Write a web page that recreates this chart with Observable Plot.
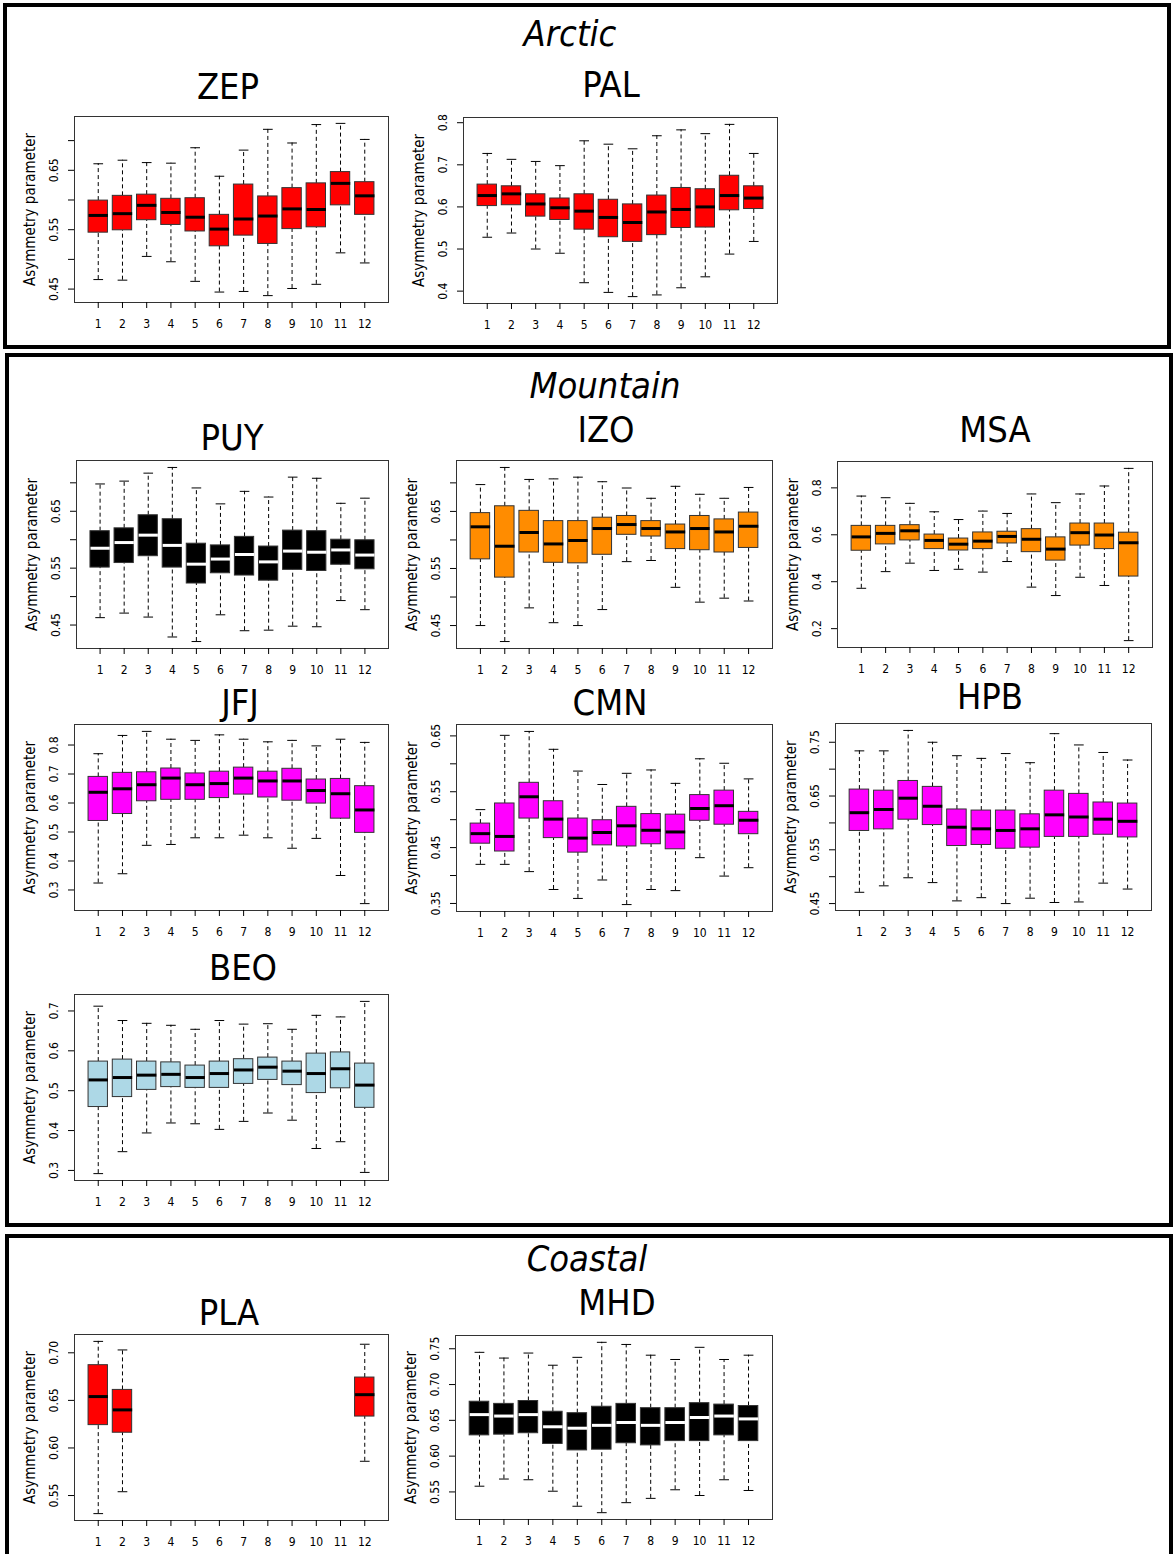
<!DOCTYPE html>
<html><head><meta charset="utf-8">
<script src="https://cdn.jsdelivr.net/npm/d3@7"></script>
<script src="https://cdn.jsdelivr.net/npm/@observablehq/plot@0.6"></script>
<style>
body{margin:0;background:#fff;}
#page{position:relative;width:1173px;height:1554px;overflow:hidden;background:#fff;font-family:"Liberation Sans Narrow","DejaVu Sans Condensed","Liberation Sans",Arial,sans-serif;color:#000;}
.group{position:absolute;border:4px solid #000;box-sizing:border-box;}
.gtitle{position:absolute;font-style:italic;font-size:36px;transform:translate(-50%,-50%);white-space:nowrap;line-height:1;}
.ptitle{position:absolute;font-size:36px;transform:translate(-50%,-50%);white-space:nowrap;line-height:1;}
.panel{position:absolute;}
</style></head><body><div id="page"></div>
<script>
const months = [1,2,3,4,5,6,7,8,9,10,11,12];

// ZEP (Arctic)
const ZEP_lo  = [0.466,0.465,0.505,0.496,0.463,0.445,0.446,0.439,0.451,0.458,0.511,0.494];
const ZEP_q1  = [0.545,0.549,0.566,0.558,0.547,0.522,0.540,0.526,0.551,0.554,0.591,0.575];
const ZEP_med = [0.574,0.577,0.591,0.579,0.571,0.551,0.568,0.573,0.585,0.584,0.628,0.607];
const ZEP_q3  = [0.599,0.607,0.609,0.602,0.603,0.575,0.626,0.606,0.620,0.628,0.647,0.630];
const ZEP_hi  = [0.661,0.667,0.663,0.662,0.688,0.640,0.684,0.719,0.696,0.727,0.729,0.702];
// PAL (Arctic)
const PAL_lo  = [0.528,0.538,0.500,0.490,0.420,0.397,0.387,0.391,0.408,0.434,0.488,0.518];
const PAL_q1  = [0.602,0.604,0.577,0.569,0.546,0.528,0.517,0.533,0.550,0.551,0.592,0.595];
const PAL_med = [0.627,0.631,0.607,0.598,0.590,0.575,0.563,0.588,0.594,0.600,0.627,0.621];
const PAL_q3  = [0.653,0.649,0.630,0.620,0.630,0.617,0.606,0.627,0.645,0.642,0.674,0.649];
const PAL_hi  = [0.727,0.713,0.708,0.698,0.757,0.749,0.738,0.769,0.783,0.774,0.796,0.727];
// PUY (Mountain)
const PUY_lo  = [0.463,0.471,0.464,0.429,0.421,0.468,0.440,0.441,0.448,0.447,0.493,0.477];
const PUY_q1  = [0.551,0.559,0.571,0.551,0.523,0.541,0.537,0.528,0.547,0.545,0.556,0.548];
const PUY_med = [0.585,0.595,0.608,0.590,0.557,0.566,0.574,0.561,0.580,0.578,0.582,0.573];
const PUY_q3  = [0.615,0.620,0.643,0.636,0.593,0.590,0.605,0.588,0.616,0.615,0.600,0.599];
const PUY_hi  = [0.698,0.703,0.717,0.727,0.691,0.663,0.685,0.675,0.710,0.708,0.664,0.673];
// IZO (Mountain)
const IZO_lo  = [0.450,0.422,0.481,0.455,0.450,0.478,0.562,0.564,0.517,0.491,0.498,0.493];
const IZO_q1  = [0.566,0.534,0.578,0.560,0.559,0.574,0.609,0.606,0.584,0.582,0.578,0.586];
const IZO_med = [0.623,0.589,0.613,0.593,0.599,0.620,0.627,0.620,0.614,0.620,0.614,0.624];
const IZO_q3  = [0.647,0.659,0.651,0.633,0.633,0.639,0.642,0.633,0.627,0.642,0.636,0.648];
const IZO_hi  = [0.697,0.727,0.706,0.707,0.710,0.702,0.691,0.673,0.694,0.680,0.673,0.692];
// MSA (Mountain)
const MSA_lo  = [0.372,0.443,0.479,0.448,0.453,0.441,0.486,0.377,0.341,0.419,0.384,0.149];
const MSA_q1  = [0.532,0.559,0.576,0.539,0.533,0.539,0.563,0.526,0.490,0.554,0.539,0.422];
const MSA_med = [0.591,0.606,0.617,0.576,0.560,0.573,0.593,0.581,0.539,0.609,0.599,0.566];
const MSA_q3  = [0.638,0.638,0.641,0.601,0.584,0.610,0.613,0.624,0.589,0.648,0.648,0.609];
const MSA_hi  = [0.765,0.758,0.734,0.698,0.665,0.701,0.691,0.774,0.737,0.774,0.808,0.883];
// JFJ (Mountain)
const JFJ_lo  = [0.324,0.356,0.454,0.457,0.480,0.480,0.489,0.480,0.444,0.478,0.350,0.253];
const JFJ_q1  = [0.538,0.562,0.606,0.611,0.611,0.617,0.629,0.619,0.608,0.598,0.546,0.497];
const JFJ_med = [0.637,0.649,0.663,0.686,0.663,0.667,0.686,0.676,0.676,0.643,0.632,0.576];
const JFJ_q3  = [0.690,0.704,0.706,0.719,0.702,0.708,0.722,0.708,0.718,0.681,0.683,0.658];
const JFJ_hi  = [0.770,0.833,0.847,0.820,0.816,0.835,0.820,0.811,0.816,0.797,0.820,0.809];
// CMN (Mountain)
const CMN_lo  = [0.420,0.420,0.407,0.375,0.359,0.392,0.348,0.375,0.373,0.432,0.399,0.414];
const CMN_q1  = [0.457,0.443,0.502,0.467,0.441,0.454,0.452,0.456,0.447,0.498,0.491,0.474];
const CMN_med = [0.475,0.470,0.541,0.501,0.467,0.477,0.489,0.481,0.478,0.520,0.525,0.499];
const CMN_q3  = [0.493,0.529,0.566,0.533,0.502,0.499,0.523,0.510,0.509,0.544,0.552,0.514];
const CMN_hi  = [0.518,0.651,0.658,0.626,0.587,0.563,0.583,0.589,0.565,0.609,0.601,0.573];
// HPB (Mountain)
const HPB_lo  = [0.471,0.483,0.498,0.489,0.455,0.461,0.450,0.460,0.452,0.453,0.488,0.477];
const HPB_q1  = [0.585,0.588,0.606,0.596,0.557,0.559,0.552,0.554,0.574,0.574,0.578,0.573];
const HPB_med = [0.619,0.625,0.646,0.631,0.592,0.589,0.586,0.589,0.615,0.611,0.607,0.603];
const HPB_q3  = [0.662,0.660,0.678,0.667,0.625,0.623,0.623,0.616,0.660,0.654,0.638,0.636];
const HPB_hi  = [0.734,0.734,0.772,0.750,0.725,0.720,0.729,0.712,0.766,0.745,0.731,0.717];
// BEO (Mountain)
const BEO_lo  = [0.292,0.347,0.394,0.419,0.417,0.403,0.423,0.444,0.426,0.355,0.372,0.295];
const BEO_q1  = [0.459,0.484,0.502,0.509,0.507,0.507,0.517,0.527,0.514,0.494,0.506,0.457];
const BEO_med = [0.527,0.533,0.539,0.541,0.533,0.543,0.552,0.559,0.549,0.543,0.555,0.514];
const BEO_q3  = [0.573,0.578,0.573,0.571,0.563,0.573,0.579,0.583,0.573,0.593,0.596,0.568];
const BEO_hi  = [0.712,0.676,0.669,0.664,0.654,0.676,0.667,0.668,0.654,0.689,0.685,0.724];
// PLA (Coastal) - only months 1, 2, 12
const PLA_lo  = [0.531,0.554,null,null,null,null,null,null,null,null,null,0.586];
const PLA_q1  = [0.624,0.616,null,null,null,null,null,null,null,null,null,0.633];
const PLA_med = [0.654,0.640,null,null,null,null,null,null,null,null,null,0.656];
const PLA_q3  = [0.687,0.661,null,null,null,null,null,null,null,null,null,0.674];
const PLA_hi  = [0.712,0.703,null,null,null,null,null,null,null,null,null,0.709];
// MHD (Coastal)
const MHD_lo  = [0.558,0.568,0.567,0.551,0.530,0.521,0.535,0.541,0.553,0.545,0.567,0.552];
const MHD_q1  = [0.629,0.630,0.632,0.617,0.608,0.609,0.618,0.615,0.621,0.621,0.629,0.621];
const MHD_med = [0.658,0.656,0.658,0.641,0.639,0.643,0.647,0.643,0.647,0.654,0.656,0.652];
const MHD_q3  = [0.676,0.673,0.677,0.662,0.660,0.669,0.673,0.667,0.667,0.674,0.672,0.670];
const MHD_hi  = [0.745,0.737,0.744,0.727,0.738,0.759,0.756,0.741,0.735,0.752,0.735,0.741];

// y tick positions and tick labels ("" = tick without label)
const ZEP_ticks = [0.45,0.50,0.55,0.60,0.65,0.70], ZEP_labels = ["0.45","","0.55","","0.65",""];
const PAL_ticks = [0.4,0.5,0.6,0.7,0.8], PAL_labels = ["0.4","0.5","0.6","0.7","0.8"];
const PUY_ticks = [0.45,0.50,0.55,0.60,0.65,0.70], PUY_labels = ["0.45","","0.55","","0.65",""];
const IZO_ticks = [0.45,0.50,0.55,0.60,0.65,0.70], IZO_labels = ["0.45","","0.55","","0.65",""];
const MSA_ticks = [0.2,0.4,0.6,0.8], MSA_labels = ["0.2","0.4","0.6","0.8"];
const JFJ_ticks = [0.3,0.4,0.5,0.6,0.7,0.8], JFJ_labels = ["0.3","0.4","0.5","0.6","0.7","0.8"];
const CMN_ticks = [0.35,0.40,0.45,0.50,0.55,0.60,0.65], CMN_labels = ["0.35","","0.45","","0.55","","0.65"];
const HPB_ticks = [0.45,0.50,0.55,0.60,0.65,0.70,0.75], HPB_labels = ["0.45","","0.55","","0.65","","0.75"];
const BEO_ticks = [0.3,0.4,0.5,0.6,0.7], BEO_labels = ["0.3","0.4","0.5","0.6","0.7"];
const PLA_ticks = [0.55,0.60,0.65,0.70], PLA_labels = ["0.55","0.60","0.65","0.70"];
const MHD_ticks = [0.55,0.60,0.65,0.70,0.75], MHD_labels = ["0.55","0.60","0.65","0.70","0.75"];

const groups = ["Arctic","Mountain","Coastal"];
const yTitle = "Asymmetry parameter";

const page = document.getElementById("page");
function div(cls, style, text) {
  const d = document.createElement("div");
  d.className = cls; Object.assign(d.style, style);
  if (text != null) d.textContent = text;
  page.appendChild(d); return d;
}

// group frames
div("group", {left:"3px", top:"3px", width:"1168px", height:"346px"});
div("group", {left:"5px", top:"353px", width:"1168px", height:"874px"});
div("group", {left:"5px", top:"1234px", width:"1168px", height:"400px"});
div("gtitle", {left:"570px", top:"34px"}, groups[0]);
div("gtitle", {left:"605px", top:"386px"}, groups[1]);
div("gtitle", {left:"587px", top:"1259px"}, groups[2]);

const stations = [
  {name:"ZEP", lo:ZEP_lo,q1:ZEP_q1,med:ZEP_med,q3:ZEP_q3,hi:ZEP_hi, ticks:ZEP_ticks, labels:ZEP_labels, fill:"#ff0000", medc:"#000", frame:[74,116,388,302], title:[228,87]},
  {name:"PAL", lo:PAL_lo,q1:PAL_q1,med:PAL_med,q3:PAL_q3,hi:PAL_hi, ticks:PAL_ticks, labels:PAL_labels, fill:"#ff0000", medc:"#000", frame:[463,117,777,303], title:[611,85]},
  {name:"PUY", lo:PUY_lo,q1:PUY_q1,med:PUY_med,q3:PUY_q3,hi:PUY_hi, ticks:PUY_ticks, labels:PUY_labels, fill:"#000000", medc:"#fff", frame:[76,460,388,648], title:[232,438]},
  {name:"IZO", lo:IZO_lo,q1:IZO_q1,med:IZO_med,q3:IZO_q3,hi:IZO_hi, ticks:IZO_ticks, labels:IZO_labels, fill:"#ff8c00", medc:"#000", frame:[456,460,772,648], title:[606,430]},
  {name:"MSA", lo:MSA_lo,q1:MSA_q1,med:MSA_med,q3:MSA_q3,hi:MSA_hi, ticks:MSA_ticks, labels:MSA_labels, fill:"#ff8c00", medc:"#000", frame:[837,461,1152,647], title:[995,430]},
  {name:"JFJ", lo:JFJ_lo,q1:JFJ_q1,med:JFJ_med,q3:JFJ_q3,hi:JFJ_hi, ticks:JFJ_ticks, labels:JFJ_labels, fill:"#ff00ff", medc:"#000", frame:[74,724,388,910], title:[240,703]},
  {name:"CMN", lo:CMN_lo,q1:CMN_q1,med:CMN_med,q3:CMN_q3,hi:CMN_hi, ticks:CMN_ticks, labels:CMN_labels, fill:"#ff00ff", medc:"#000", frame:[456,724,772,911], title:[610,703]},
  {name:"HPB", lo:HPB_lo,q1:HPB_q1,med:HPB_med,q3:HPB_q3,hi:HPB_hi, ticks:HPB_ticks, labels:HPB_labels, fill:"#ff00ff", medc:"#000", frame:[835,723,1151,910], title:[990,697]},
  {name:"BEO", lo:BEO_lo,q1:BEO_q1,med:BEO_med,q3:BEO_q3,hi:BEO_hi, ticks:BEO_ticks, labels:BEO_labels, fill:"#add8e6", medc:"#000", frame:[74,994,388,1180], title:[243,968]},
  {name:"PLA", lo:PLA_lo,q1:PLA_q1,med:PLA_med,q3:PLA_q3,hi:PLA_hi, ticks:PLA_ticks, labels:PLA_labels, fill:"#ff0000", medc:"#000", frame:[74,1334,388,1520], title:[229,1313]},
  {name:"MHD", lo:MHD_lo,q1:MHD_q1,med:MHD_med,q3:MHD_q3,hi:MHD_hi, ticks:MHD_ticks, labels:MHD_labels, fill:"#000000", medc:"#fff", frame:[455,1335,772,1519], title:[617,1303]}
];

const FONT = '"Liberation Sans Narrow","DejaVu Sans Condensed","Liberation Sans",Arial,sans-serif';

for (const st of stations) {
  const rows = months.map((m,i)=>({m, lo:st.lo[i], q1:st.q1[i], med:st.med[i], q3:st.q3[i], hi:st.hi[i]})).filter(d=>d.med!=null);
  const mn = d3.min(rows, d=>d.lo), mx = d3.max(rows, d=>d.hi), pad = (mx-mn)*0.04;
  const y0 = mn-pad, y1 = mx+pad;
  const [L,T,R,B] = st.frame;
  const ml = 62, mr = 8, mt = 8, mb = 40;
  const tickRows = st.ticks.map((v,i)=>({v, s:st.labels[i]})).filter(d=>d.s!=="");
  const chart = Plot.plot({
    width: (R-L)+ml+mr, height: (B-T)+mt+mb,
    marginLeft: ml, marginRight: mr, marginTop: mt, marginBottom: mb,
    x: {type:"linear", domain:[0.02,12.98]},
    y: {type:"linear", domain:[y0, y1]},
    style: {fontFamily: FONT, fontSize:"12px", background:"transparent", color:"#000", overflow:"visible"},
    marks: [
      Plot.ruleX(rows, {x:"m", y1:"lo", y2:"q1", stroke:"#000", strokeDasharray:"4,3"}),
      Plot.ruleX(rows, {x:"m", y1:"q3", y2:"hi", stroke:"#000", strokeDasharray:"4,3"}),
      Plot.link(rows, {x1:d=>d.m-0.2, x2:d=>d.m+0.2, y1:"lo", y2:"lo", stroke:"#000"}),
      Plot.link(rows, {x1:d=>d.m-0.2, x2:d=>d.m+0.2, y1:"hi", y2:"hi", stroke:"#000"}),
      Plot.rect(rows, {x1:d=>d.m-0.4, x2:d=>d.m+0.4, y1:"q1", y2:"q3", fill:st.fill, stroke:"#333", strokeWidth:1}),
      Plot.link(rows, {x1:d=>d.m-0.4, x2:d=>d.m+0.4, y1:"med", y2:"med", stroke:st.medc, strokeWidth:3}),
      Plot.frame({stroke:"#333"}),
      Plot.axisX({ticks:months, tickSize:6, tickPadding:11, label:null, tickFormat:d=>String(d), fontSize:12}),
      Plot.axisY({ticks:st.ticks, tickSize:6, label:null, tickFormat:()=>""}),
      Plot.text(tickRows, {y:"v", text:"s", frameAnchor:"left", textAnchor:"middle", rotate:-90, dx:-20, fontSize:12}),
      Plot.text([{t: yTitle, v: (y0+y1)/2}], {y:"v", text:"t", frameAnchor:"left", textAnchor:"middle", rotate:-90, dx:-44, fontSize:15})
    ]
  });
  const holder = div("panel", {left:(L-ml)+"px", top:(T-mt)+"px"});
  holder.appendChild(chart);
  div("ptitle", {left:st.title[0]+"px", top:st.title[1]+"px"}, st.name);
}
</script>
</body></html>
